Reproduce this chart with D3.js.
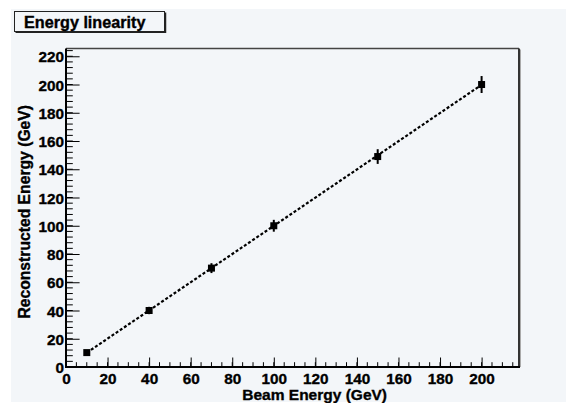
<!DOCTYPE html>
<html>
<head>
<meta charset="utf-8">
<script src="https://cdn.jsdelivr.net/npm/d3@7"></script>
<style>
  html, body { margin: 0; padding: 0; background: #ffffff; }
  svg { display: block; }
  text { font-family: "Liberation Sans", Arial, Helvetica, sans-serif; font-weight: bold; fill: #000; stroke: #000; stroke-width: 0.35px; }
</style>
</head>
<body>
<script>
// ---- data ----
const beamEnergy = [10, 40, 70, 100, 150, 200];
const recoEnergy = [10.2, 40, 70, 100, 149, 200];
const recoError  = [1.3, 2.6, 3.5, 4.2, 5.2, 6.0];
const fitX = [10, 200];
const fitY = [10.1, 199.8];
const xTicks = [0, 20, 40, 60, 80, 100, 120, 140, 160, 180, 200];
const yTicks = [0, 20, 40, 60, 80, 100, 120, 140, 160, 180, 200, 220];
const titleText = "Energy linearity";
const xTitle = "Beam Energy (GeV)";
const yTitle = "Reconstructed Energy (GeV)";

const W = 566, H = 403;
const frame = { left: 66, right: 519, top: 48.5, bottom: 367 };

const svg = d3.select("body").append("svg").attr("width", W).attr("height", H);

// pad background
svg.append("rect").attr("x", 11).attr("y", 9).attr("width", W - 11).attr("height", H - 10)
  .attr("fill", "#f3f6f9");

const x = d3.scaleLinear().domain([0, 218]).range([frame.left, frame.right]);
const y = d3.scaleLinear().domain([0, 225.5]).range([frame.bottom, frame.top]);

// frame top / right
svg.append("line").attr("x1", frame.left).attr("x2", frame.right).attr("y1", frame.top).attr("y2", frame.top)
  .attr("stroke", "#444").attr("stroke-width", 1.6);
svg.append("line").attr("x1", frame.right).attr("x2", frame.right).attr("y1", frame.top).attr("y2", frame.bottom)
  .attr("stroke", "#333").attr("stroke-width", 2);
svg.append("line").attr("x1", frame.right + 1.5).attr("x2", frame.right + 1.5).attr("y1", frame.top + 1).attr("y2", frame.bottom)
  .attr("stroke", "#aaa").attr("stroke-width", 1);

// minor ticks
const xMinor = d3.range(0, 218.01, 5);
const yMinor = d3.range(0, 225.01, 4);
svg.append("g").selectAll("line").data(xMinor).join("line")
  .attr("x1", d => x(d)).attr("x2", d => x(d))
  .attr("y1", frame.bottom).attr("y2", frame.bottom - 4.8)
  .attr("stroke", "#000").attr("stroke-width", 1);
svg.append("g").selectAll("line").data(yMinor).join("line")
  .attr("x1", frame.left).attr("x2", frame.left + 6.8)
  .attr("y1", d => y(d)).attr("y2", d => y(d))
  .attr("stroke", "#000").attr("stroke-width", 1);

// axes via d3 axis generators (ticks inward)
const xAxis = d3.axisBottom(x).tickValues(xTicks).tickSize(-9.5).tickPadding(0).tickFormat(d3.format("d"));
const gx = svg.append("g").attr("transform", `translate(0,${frame.bottom})`).call(xAxis);
gx.select(".domain").remove();
gx.selectAll(".tick line").attr("stroke", "#000").attr("stroke-width", 1);
gx.selectAll(".tick text").attr("font-size", 15.3).attr("y", 17).attr("dy", null)
  .style("font-family", '"Liberation Sans", Arial, sans-serif').style("font-weight", "bold").attr("fill", "#000");

const yAxis = d3.axisLeft(y).tickValues(yTicks).tickSize(-13.6).tickPadding(0).tickFormat(d3.format("d"));
const gy = svg.append("g").attr("transform", `translate(${frame.left},0)`).call(yAxis);
gy.select(".domain").remove();
gy.selectAll(".tick line").attr("stroke", "#000").attr("stroke-width", 1);
gy.selectAll(".tick text").attr("font-size", 15.3).attr("x", -2).attr("dy", null).attr("y", 5.5)
  .attr("text-anchor", "end")
  .style("font-family", '"Liberation Sans", Arial, sans-serif').style("font-weight", "bold").attr("fill", "#000");

// axis lines
svg.append("line").attr("x1", frame.left).attr("x2", frame.right + 1).attr("y1", frame.bottom).attr("y2", frame.bottom)
  .attr("stroke", "#000").attr("stroke-width", 2);
svg.append("line").attr("x1", frame.left).attr("x2", frame.left).attr("y1", frame.top).attr("y2", frame.bottom + 1)
  .attr("stroke", "#000").attr("stroke-width", 2);

// fit line
svg.append("line")
  .attr("x1", x(fitX[0])).attr("y1", y(fitY[0]))
  .attr("x2", x(fitX[1])).attr("y2", y(fitY[1]))
  .attr("stroke", "#000").attr("stroke-width", 2.2).attr("stroke-dasharray", "3,2");

// error bars
const pts = beamEnergy.map((b, i) => ({ b, r: recoEnergy[i], e: recoError[i] }));
svg.append("g").selectAll("line").data(pts).join("line")
  .attr("x1", d => x(d.b)).attr("x2", d => x(d.b))
  .attr("y1", d => y(d.r - d.e)).attr("y2", d => y(d.r + d.e))
  .attr("stroke", "#000").attr("stroke-width", 2);
// markers
svg.append("g").selectAll("rect").data(pts).join("rect")
  .attr("x", d => x(d.b) - 3.5).attr("y", d => y(d.r) - 3.5)
  .attr("width", 7).attr("height", 7).attr("fill", "#000");

// axis titles
svg.append("text").attr("x", 387).attr("y", 400).attr("text-anchor", "end")
  .attr("font-size", 15.5).text(xTitle);
svg.append("text").attr("transform", "translate(30,105) rotate(-90)").attr("text-anchor", "end")
  .attr("font-size", 15.7).text(yTitle);

// title box
svg.append("rect").attr("x", 14.5).attr("y", 11.5).attr("width", 150).attr("height", 20)
  .attr("fill", "#f3f6f9").attr("stroke", "#222").attr("stroke-width", 1);
svg.append("line").attr("x1", 165.5).attr("x2", 165.5).attr("y1", 12.5).attr("y2", 33)
  .attr("stroke", "#222").attr("stroke-width", 1.5);
svg.append("line").attr("x1", 15.5).attr("x2", 166).attr("y1", 32.3).attr("y2", 32.3)
  .attr("stroke", "#222").attr("stroke-width", 1.5);
svg.append("text").attr("x", 24).attr("y", 27.5).attr("font-size", 16.2).text(titleText);
</script>
</body>
</html>
